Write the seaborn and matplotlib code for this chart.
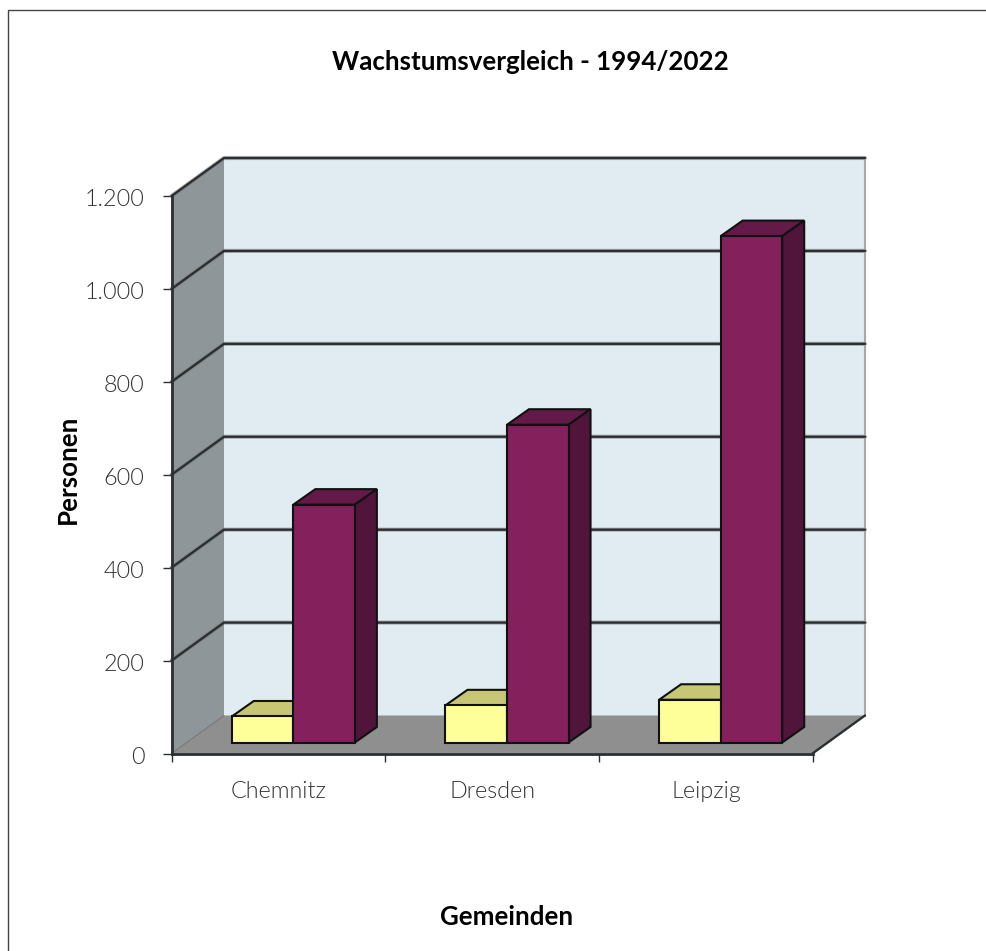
import matplotlib
matplotlib.use("Agg")
import matplotlib.pyplot as plt
from matplotlib.patches import Polygon, Rectangle
from matplotlib.lines import Line2D
from matplotlib.transforms import Affine2D, IdentityTransform
import pandas as pd
import seaborn as sns

gemeinden = ["Chemnitz", "Dresden", "Leipzig"]
jahr_1994 = [56, 80, 92]
jahr_2022 = [512, 684, 1090]
y_ticks = [0, 200, 400, 600, 800, 1000, 1200]
y_labels = ["0", "200", "400", "600", "800", "1.000", "1.200"]

W, H = 986, 951
sns.set_style("white")
plt.rcParams["font.family"] = ["Lato", "DejaVu Sans"]

df = pd.DataFrame({
    "gemeinde": gemeinden * 2,
    "jahr": ["1994"] * 3 + ["2022"] * 3,
    "personen": jahr_1994 + jahr_2022,
})

fig = plt.figure(figsize=(W / 100, H / 100), dpi=100, facecolor="white")
ax = fig.add_axes([171.5 / W, (H - 753.5) / H, 641 / W, 557.5 / H])

sns.barplot(data=df, x="gemeinde", y="personen", hue="jahr", order=gemeinden,
            palette=["#ffff99", "#84205c"], width=0.576, gap=0, legend=False,
            saturation=1, edgecolor="#111111", linewidth=1.5, ax=ax)
ax.set_xlim(-0.5, 2.5)
ax.set_ylim(0, 1200)
ax.patch.set_visible(False)

LINE = "#2b2f31"
DX, DY = 52.5, 38      # Tiefe der Wand in Pixeln
BX, BY = 15, 11        # Versatz der Saeulen
SX, SY = 22, 15.5      # Tiefe der Saeulen


def px(x, y):
    return ax.transData.transform((x, y))


def poly(pts, color, z, edge="none", lw=0):
    ax.add_patch(Polygon(pts, closed=True, facecolor=color, edgecolor=edge, linewidth=lw,
                         transform=IdentityTransform(), zorder=z, clip_on=False))


def line(pts, z=1.5, lw=1.7, color=LINE, alpha=1):
    xs, ys = zip(*pts)
    ax.add_line(Line2D(xs, ys, color=color, linewidth=lw, transform=IdentityTransform(),
                       zorder=z, solid_capstyle="round", clip_on=False, alpha=alpha))


x0, y0 = px(-0.5, 0)
x1, y1 = px(2.5, 1200)

# Rahmen
fig.add_artist(Rectangle((8 / W, -0.01), 1, (H - 10) / H + 0.01, fill=False, edgecolor="#444444",
                         linewidth=1, transform=fig.transFigure, zorder=0.5))

# Waende und Boden
poly([(x0 + DX, y0 + DY), (x1 + DX, y0 + DY), (x1 + DX, y1 + DY), (x0 + DX, y1 + DY)], "#e1ebf2", 1)
poly([(x0, y0), (x0 + DX, y0 + DY), (x0 + DX, y1 + DY), (x0, y1)], "#8e9699", 1)
poly([(x0, y0), (x1, y0), (x1 + DX, y0 + DY), (x0 + DX, y0 + DY)], "#8f8f8f", 1.2)
line([(x1 + DX, y0 + DY), (x1 + DX, y1 + DY)], lw=1.5, color="#a8a8a8")

for t in y_ticks[1:]:
    _, y = px(0, t)
    pts = [(x0, y), (x0 + DX, y + DY), (x1 + DX, y + DY)]
    line(pts, z=1.4, lw=3, color="#777777", alpha=0.5)
    line(pts)
line([(x0, y0), (x0 + DX, y0 + DY)], lw=0.8, color="#777777")
line([(x1, y0), (x1 + DX, y0 + DY)])

# Saeulen in Pseudo-3D aus den Balken von seaborn
shift = Affine2D().translate(BX, BY)
for i, bar in enumerate(ax.patches[:6]):
    z = 3 if i < 3 else 5
    xa, ya = px(bar.get_x(), 0)
    xb, yb = px(bar.get_x() + bar.get_width(), bar.get_height())
    xa, xb, ya, yb = xa + BX, xb + BX, ya + BY, yb + BY
    top = "#c6c674" if i < 3 else "#641a48"
    side = "#a8a860" if i < 3 else "#51143b"
    poly([(xa, yb), (xb, yb), (xb + SX, yb + SY), (xa + SX, yb + SY)], top, z, "#111111", 1.5)
    poly([(xb, ya), (xb + SX, ya + SY), (xb + SX, yb + SY), (xb, yb)], side, z, "#111111", 1.5)
    bar.set_transform(ax.transData + shift)
    bar.set_clip_on(False)
    bar.set_zorder(z + 0.5)

# Achsen
sns.despine(ax=ax)
for s in ["left", "bottom"]:
    ax.spines[s].set_color(LINE)
    ax.spines[s].set_linewidth(2)
    ax.spines[s].set_zorder(2)
ax.set_yticks(y_ticks, y_labels)
ax.tick_params(axis="y", left=True, length=6.5, width=1, color=LINE, pad=13, labelsize=16.8,
               labelcolor="#333333")
ax.set_xticks([-0.5, 0.5, 1.5, 2.5], [])
ax.tick_params(axis="x", bottom=True, length=6, width=1, color=LINE)
for lab in ax.get_yticklabels():
    lab.set_fontweight(300)
    lab.set_transform(lab.get_transform() + Affine2D().translate(0, -1.5))
for g, name in enumerate(gemeinden):
    fig.text((278.5 + g * 213.7) / W, (H - 791) / H, name, ha="center", va="center",
             fontsize=16.8, fontweight=300, color="#333333")
ax.set_xlabel("")
ax.set_ylabel("")

fig.text(530 / W, (H - 62) / H, "Wachstumsvergleich - 1994/2022", ha="center", va="center",
         fontsize=18.6, fontweight="bold", color="black")
fig.text(507 / W, (H - 917) / H, "Gemeinden", ha="center", va="center",
         fontsize=18.6, fontweight="bold", color="black")
fig.text(68 / W, (H - 469) / H, "Personen", ha="center", va="center", rotation=90,
         fontsize=18.6, fontweight="bold", color="black")

fig.savefig("out.png", dpi=100)
